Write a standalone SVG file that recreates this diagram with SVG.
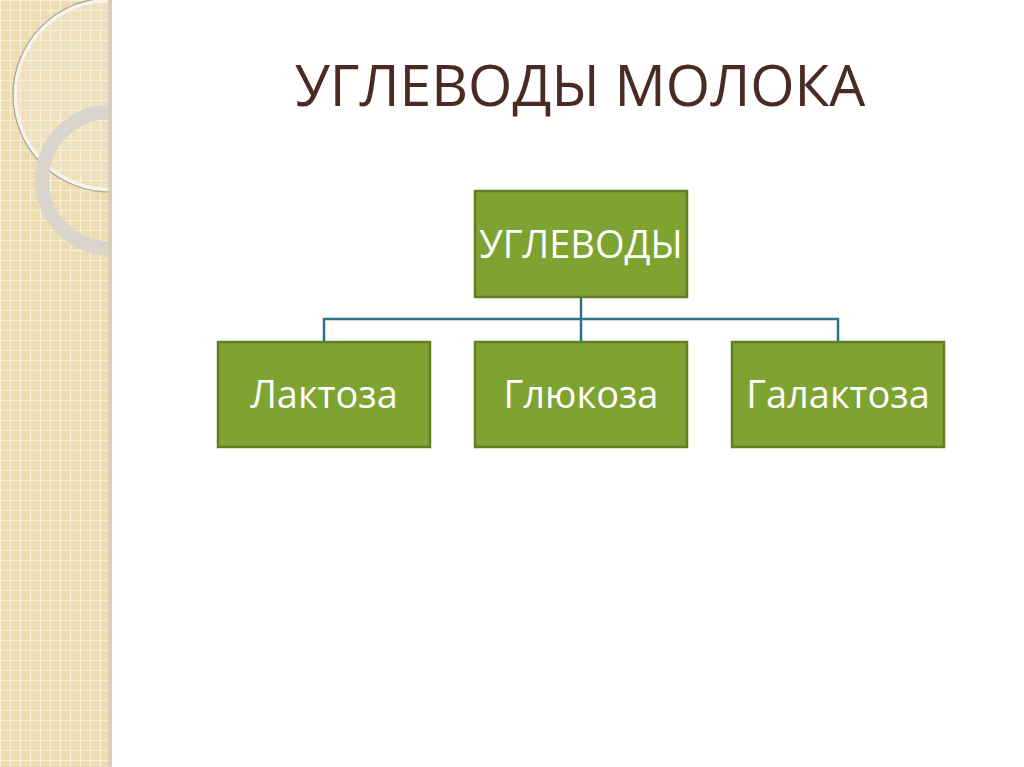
<svg xmlns="http://www.w3.org/2000/svg" width="1024" height="767" viewBox="0 0 1024 767">
<defs>
<pattern id="grid" width="10" height="10" patternUnits="userSpaceOnUse">
<rect width="10" height="10" fill="#ecdcb0"/>
<path d="M0 0.5H10M0.5 0V10" stroke="#f7efd8" stroke-width="1.2"/>
</pattern>
<clipPath id="strip"><rect x="0" y="0" width="110" height="767"/></clipPath>
<style>
.box{fill:#7ea331;stroke:#5f7f22;stroke-width:2.5}
.lbl{font-family:"Open Sans","Noto Sans",sans-serif;font-size:38px;fill:#fff;text-anchor:middle}
.conn{stroke:#2f7387;stroke-width:2.5;fill:none}
</style>
</defs>
<rect width="1024" height="767" fill="#fff"/>
<g id="decor">
<rect x="0" y="0" width="110" height="767" fill="url(#grid)"/>
<g clip-path="url(#strip)">
<circle cx="110" cy="95" r="95" fill="#fff" fill-opacity="0.15" stroke="#f8f4ea" stroke-width="4"/>
<circle cx="110" cy="95" r="97" fill="none" stroke="#a9a294" stroke-width="1.2"/>
<circle cx="110" cy="180" r="68" fill="none" stroke="#d9d4cc" stroke-width="14"/>
</g>
<rect x="108" y="0" width="4" height="767" fill="#d8cdb8"/>
</g>
<text x="580" y="106" font-family="Open Sans,Noto Sans,sans-serif" font-size="57" fill="#4a2b24" text-anchor="middle">УГЛЕВОДЫ МОЛОКА</text>
<g id="connectors">
<path class="conn" d="M581 297V341M324 341V319H838V341"/>
</g>
<g id="n-root"><rect class="box" x="475" y="191" width="212" height="106"/><text class="lbl" x="581" y="258">УГЛЕВОДЫ</text></g>
<g id="n-lactose"><rect class="box" x="218" y="342" width="212" height="105"/><text class="lbl" x="324" y="408">Лактоза</text></g>
<g id="n-glucose"><rect class="box" x="475" y="342" width="212" height="105"/><text class="lbl" x="581" y="408">Глюкоза</text></g>
<g id="n-galactose"><rect class="box" x="732" y="342" width="212" height="105"/><text class="lbl" x="838" y="408">Галактоза</text></g>
</svg>
